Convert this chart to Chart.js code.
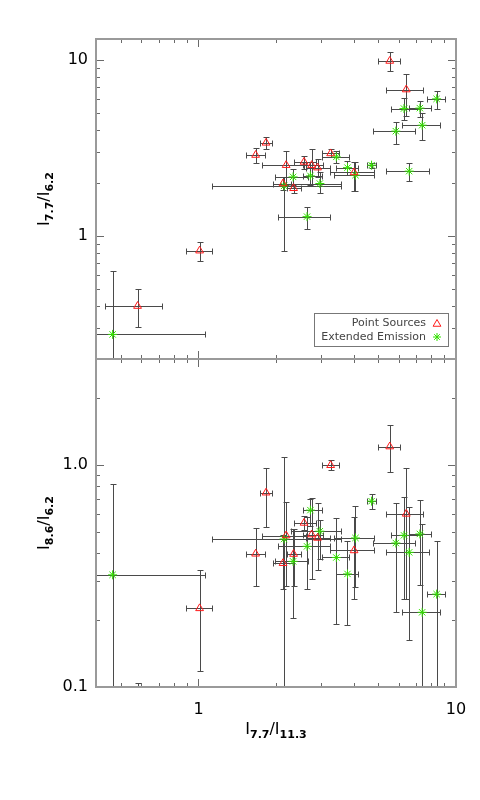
<!DOCTYPE html>
<html><head><meta charset="utf-8">
<script src="https://cdn.jsdelivr.net/npm/chart.js@4.4.1/dist/chart.umd.min.js"></script>
<style>html,body{margin:0;padding:0;background:#fff}canvas{display:block}</style>
</head><body>
<canvas id="c" width="480" height="800"></canvas>
<script>
// ---- Point Sources ----
const psX     = [0.58, 1.01, 1.667, 1.83, 2.19, 2.13, 2.34, 2.57, 2.75, 2.90, 3.26, 4.02, 5.53, 6.41];
const psXLo   = [0.435, 0.895, 1.53, 1.73, 1.77, 1.95, 2.21, 2.34, 2.55, 2.61, 3.03, 3.25, 5.0, 5.37];
const psXHi   = [0.72, 1.127, 1.82, 1.93, 2.62, 2.33, 2.49, 2.87, 3.05, 3.25, 3.52, 4.80, 6.06, 7.46];
const psR77   = [0.40, 0.826, 2.89, 3.39, 2.53, 1.99, 1.87, 2.64, 2.53, 2.45, 2.95, 2.30, 9.9, 6.81];
const psR77Lo = [0.304, 0.724, 2.62, 3.11, 1.95, 1.82, 1.76, 2.42, 1.97, 2.17, 2.80, 1.81, 8.66, 4.81];
const psR77Hi = [0.50, 0.92, 3.18, 3.67, 3.04, 2.17, 1.99, 2.86, 3.13, 2.73, 3.11, 2.64, 11.1, 8.32];
const psR86   = [0.07, 0.226, 0.398, 0.750, 0.481, 0.361, 0.397, 0.548, 0.486, 0.469, 0.997, 0.412, 1.21, 0.602];
const psR86Lo = [0.05, 0.118, 0.285, 0.526, 0.285, 0.276, 0.285, 0.51, 0.306, 0.337, 0.946, 0.248, 0.93, 0.248];
const psR86Hi = [0.104, 0.335, 0.519, 0.97, 0.68, 0.486, 0.515, 0.59, 0.711, 0.675, 1.05, 0.584, 1.52, 0.97];
// ---- Extended Emission ----
const eeX     = [0.464, 2.15, 2.33, 2.64, 2.72, 2.96, 3.43, 3.79, 4.07, 4.70, 5.84, 6.28, 6.58, 7.24, 7.39, 8.41];
const eeXLo   = [0.30, 1.13, 1.98, 2.04, 2.55, 2.29, 3.03, 3.43, 3.36, 4.52, 4.77, 5.57, 5.34, 6.56, 6.15, 7.73];
const eeXHi   = [1.06, 3.59, 2.66, 3.25, 3.02, 3.59, 3.85, 4.17, 4.80, 4.88, 6.92, 7.25, 7.88, 7.97, 8.66, 9.06];
const eeR77   = [0.276, 1.93, 2.17, 1.29, 2.20, 1.99, 2.82, 2.45, 2.22, 2.53, 3.95, 5.31, 2.34, 5.34, 4.27, 6.03];
const eeR77Lo = [0.12, 0.82, 1.95, 1.10, 1.95, 1.75, 2.59, 2.22, 1.81, 2.45, 3.36, 4.56, 2.05, 4.76, 3.50, 5.31];
const eeR77Hi = [0.635, 2.17, 2.42, 1.47, 2.64, 2.32, 3.05, 2.68, 2.64, 2.62, 4.46, 6.13, 2.62, 5.90, 5.04, 6.67];
const eeR86   = [0.320, 0.464, 0.368, 0.430, 0.626, 0.503, 0.383, 0.323, 0.469, 0.687, 0.445, 0.482, 0.404, 0.489, 0.217, 0.262];
const eeR86Lo = [0.05, 0.05, 0.204, 0.276, 0.530, 0.377, 0.192, 0.190, 0.281, 0.634, 0.217, 0.248, 0.163, 0.288, 0.05, 0.05];
const eeR86Hi = [0.824, 1.09, 0.515, 0.582, 0.706, 0.566, 0.574, 0.453, 0.652, 0.742, 0.675, 0.716, 0.645, 0.692, 0.543, 0.456];
// ---- ticks ----
const xMajor = [1, 10];
const xMajorLabels = ['1', '10'];
const xMinor = [0.5, 0.6, 0.7, 0.8, 0.9, 2, 3, 4, 5, 6, 7, 8, 9];
const yTopMajor = [1, 10];
const yTopMajorLabels = ['1', '10'];
const yTopMinor = [0.3, 0.4, 0.5, 0.6, 0.7, 0.8, 0.9, 2, 3, 4, 5, 6, 7, 8, 9];
const yBotMajor = [0.1, 1];
const yBotMajorLabels = ['0.1', '1.0'];
const yBotMinor = [0.2, 0.3, 0.4, 0.5, 0.6, 0.7, 0.8, 0.9, 2];
const seriesNames = ['Point Sources', 'Extended Emission'];

const RED = '#ff1a1a', GREEN = '#33e000', ERR = '#4a4a4a', FRAME = '#9a9a9a', TICK = '#6a6a6a';
const FONT = '"DejaVu Sans", sans-serif';

function pts(xa, ya) { return xa.map((x, i) => ({x: x, y: ya[i]})); }

function drawTri(ctx, x, y, r) {
  ctx.beginPath();
  ctx.moveTo(x, y - r);
  ctx.lineTo(x + r * 0.866, y + r * 0.5);
  ctx.lineTo(x - r * 0.866, y + r * 0.5);
  ctx.closePath();
  ctx.stroke();
}
function drawStar(ctx, x, y, r) {
  ctx.beginPath();
  ctx.moveTo(x - r, y); ctx.lineTo(x + r, y);
  ctx.moveTo(x, y - r); ctx.lineTo(x, y + r);
  const d = r * 0.707;
  ctx.moveTo(x - d, y - d); ctx.lineTo(x + d, y + d);
  ctx.moveTo(x - d, y + d); ctx.lineTo(x + d, y - d);
  ctx.stroke();
}

function errBars(ctx, xs, ys, X, XL, XH, Y, YL, YH) {
  ctx.beginPath();
  for (let i = 0; i < X.length; i++) {
    const px = Math.round(xs.getPixelForValue(X[i])) + 0.5;
    const py = Math.round(ys.getPixelForValue(Y[i])) + 0.5;
    const xl = Math.round(xs.getPixelForValue(XL[i])) + 0.5;
    const xh = Math.round(xs.getPixelForValue(XH[i])) + 0.5;
    const yl = Math.round(ys.getPixelForValue(YL[i])) + 0.5;
    const yh = Math.round(ys.getPixelForValue(YH[i])) + 0.5;
    ctx.moveTo(xl, py); ctx.lineTo(xh, py);
    ctx.moveTo(xl, py - 3); ctx.lineTo(xl, py + 3);
    ctx.moveTo(xh, py - 3); ctx.lineTo(xh, py + 3);
    ctx.moveTo(px, yh); ctx.lineTo(px, yl);
    ctx.moveTo(px - 3, yh); ctx.lineTo(px + 3, yh);
    ctx.moveTo(px - 3, yl); ctx.lineTo(px + 3, yl);
  }
  ctx.stroke();
}

function drawSubText(ctx, parts, cx, baseline) {
  const big = '16px ' + FONT, small = 'bold 11px ' + FONT;
  let w = 0;
  parts.forEach(p => { ctx.font = p[1] ? small : big; w += ctx.measureText(p[0]).width; });
  let x = cx - w / 2;
  ctx.textAlign = 'left';
  ctx.textBaseline = 'alphabetic';
  ctx.fillStyle = '#000';
  parts.forEach(p => {
    ctx.font = p[1] ? small : big;
    ctx.fillText(p[0], x, baseline + (p[1] ? 4 : 0));
    x += ctx.measureText(p[0]).width;
  });
}

const panelPlugin = {
  id: 'panels',
  beforeDatasetsDraw(chart) {
    const ctx = chart.ctx, ca = chart.chartArea, xs = chart.scales.x;
    const panels = [
      [chart.scales.yTop, [psR77, psR77Lo, psR77Hi], [eeR77, eeR77Lo, eeR77Hi]],
      [chart.scales.yBot, [psR86, psR86Lo, psR86Hi], [eeR86, eeR86Lo, eeR86Hi]]
    ];
    ctx.save();
    ctx.strokeStyle = ERR;
    ctx.lineWidth = 1;
    panels.forEach(([ys, ps, ee]) => {
      ctx.save();
      ctx.beginPath();
      ctx.rect(ca.left, ys.top, ca.right - ca.left, ys.bottom - ys.top);
      ctx.clip();
      errBars(ctx, xs, ys, psX, psXLo, psXHi, ps[0], ps[1], ps[2]);
      errBars(ctx, xs, ys, eeX, eeXLo, eeXHi, ee[0], ee[1], ee[2]);
      ctx.restore();
    });
    ctx.restore();
  },
  afterDraw(chart) {
    const ctx = chart.ctx, ca = chart.chartArea, xs = chart.scales.x;
    ctx.save();
    const panels = [[chart.scales.yTop, yTopMajor, yTopMinor], [chart.scales.yBot, yBotMajor, yBotMinor]];
    panels.forEach(([ys, maj, min]) => {
      const t = ys.top, b = ys.bottom, l = ca.left, r = ca.right;
      ctx.strokeStyle = TICK; ctx.lineWidth = 1;
      ctx.beginPath();
      const xt = (v, len) => {
        const p = Math.round(xs.getPixelForValue(v)) + 0.5;
        ctx.moveTo(p, t); ctx.lineTo(p, t + len);
        ctx.moveTo(p, b); ctx.lineTo(p, b - len);
      };
      xMajor.forEach(v => xt(v, 8)); xMinor.forEach(v => xt(v, 4));
      const yt = (v, len) => {
        const p = Math.round(ys.getPixelForValue(v)) + 0.5;
        ctx.moveTo(l, p); ctx.lineTo(l + len, p);
        ctx.moveTo(r, p); ctx.lineTo(r - len, p);
      };
      maj.forEach(v => yt(v, 8)); min.forEach(v => yt(v, 4));
      ctx.stroke();
      ctx.strokeStyle = FRAME; ctx.lineWidth = 2;
      ctx.strokeRect(l, t, r - l, b - t);
    });
    drawSubText(ctx, [['I', false], ['7.7', true], ['/', false], ['I', false], ['11.3', true]], (ca.left + ca.right) / 2, 734);
    const yTitles = [
      [chart.scales.yTop, [['I', false], ['7.7', true], ['/', false], ['I', false], ['6.2', true]]],
      [chart.scales.yBot, [['I', false], ['8.6', true], ['/', false], ['I', false], ['6.2', true]]]
    ];
    yTitles.forEach(([ys, parts]) => {
      ctx.save();
      ctx.translate(49, (ys.top + ys.bottom) / 2);
      ctx.rotate(-Math.PI / 2);
      drawSubText(ctx, parts, 0, 0);
      ctx.restore();
    });
    const lx = 314.5, ly = 313.5, lw = 134, lh = 33;
    ctx.strokeStyle = '#777'; ctx.lineWidth = 1;
    ctx.strokeRect(lx, ly, lw, lh);
    ctx.font = '11px ' + FONT; ctx.fillStyle = '#444';
    ctx.textAlign = 'right'; ctx.textBaseline = 'middle';
    ctx.fillText(seriesNames[0], 426, 323);
    ctx.fillText(seriesNames[1], 426, 337);
    ctx.lineWidth = 1;
    ctx.strokeStyle = RED; drawTri(ctx, 437, 324, 4.5);
    ctx.strokeStyle = GREEN; drawStar(ctx, 437, 337, 4);
    ctx.restore();
  }
};

const tickFont = {family: FONT, size: 16};
function majorTicks(vals) { return axis => { axis.ticks = vals.map(v => ({value: v, major: true})); }; }

new Chart(document.getElementById('c'), {
  type: 'scatter',
  data: {
    datasets: [
      {label: seriesNames[0], data: pts(psX, psR77), yAxisID: 'yTop', pointStyle: 'triangle', radius: 4.5, borderColor: RED, backgroundColor: 'rgba(0,0,0,0)', borderWidth: 1, clip: 0},
      {label: seriesNames[1], data: pts(eeX, eeR77), yAxisID: 'yTop', pointStyle: 'star', radius: 4.5, borderColor: GREEN, backgroundColor: GREEN, borderWidth: 1, clip: 0},
      {label: seriesNames[0], data: pts(psX, psR86), yAxisID: 'yBot', pointStyle: 'triangle', radius: 4.5, borderColor: RED, backgroundColor: 'rgba(0,0,0,0)', borderWidth: 1, clip: 0},
      {label: seriesNames[1], data: pts(eeX, eeR86), yAxisID: 'yBot', pointStyle: 'star', radius: 4.5, borderColor: GREEN, backgroundColor: GREEN, borderWidth: 1, clip: 0}
    ]
  },
  options: {
    responsive: false,
    animation: false,
    events: [],
    layout: {padding: {top: 39, right: 24, left: 0, bottom: 0}},
    plugins: {legend: {display: false}, tooltip: {enabled: false}},
    scales: {
      x: {
        type: 'logarithmic', position: 'bottom', min: 0.4, max: 10,
        grid: {display: false, drawTicks: false}, border: {display: false},
        afterBuildTicks: majorTicks(xMajor),
        afterFit: s => { s.height = 113; },
        ticks: {autoSkip: false, maxRotation: 0, padding: 13, color: '#000', font: tickFont,
          callback: v => xMajorLabels[xMajor.indexOf(v)] || ''}
      },
      yBot: {
        type: 'logarithmic', position: 'left', stack: 'panels', stackWeight: 328, min: 0.1, max: 3.0,
        grid: {display: false, drawTicks: false}, border: {display: false},
        afterBuildTicks: majorTicks(yBotMajor),
        afterFit: s => { s.width = 96; },
        ticks: {autoSkip: false, padding: 8, color: '#000', font: tickFont,
          callback: v => yBotMajorLabels[yBotMajor.indexOf(v)] || ''}
      },
      yTop: {
        type: 'logarithmic', position: 'left', stack: 'panels', stackWeight: 320, min: 0.2, max: 13.2,
        grid: {display: false, drawTicks: false}, border: {display: false},
        afterBuildTicks: majorTicks(yTopMajor),
        afterFit: s => { s.width = 96; },
        ticks: {autoSkip: false, padding: 8, color: '#000', font: tickFont,
          callback: v => yTopMajorLabels[yTopMajor.indexOf(v)] || ''}
      }
    }
  },
  plugins: [panelPlugin]
});
</script>
</body></html>
